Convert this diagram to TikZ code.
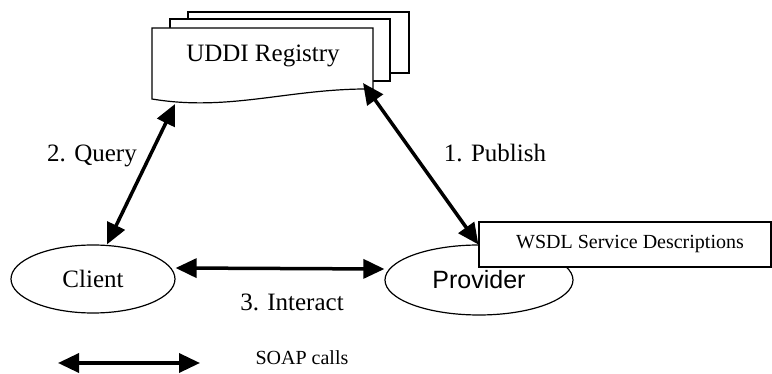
\documentclass[tikz,border=0pt]{standalone}
\usepackage{fontspec}
\setmainfont{Liberation Serif}
\newfontfamily\arialfont{Liberation Sans}
\usepackage{tikz}
\usetikzlibrary{arrows.meta,shapes.geometric,positioning}

\begin{document}
\begin{tikzpicture}[x=1pt, y=-1pt, font=\fontsize{25}{30}\selectfont,
        page/.style={draw, fill=white, line width=1.2pt},
        actor/.style={draw, ellipse, line width=1.2pt, inner sep=0pt},
        soap/.style={line width=3.5pt, {Triangle[length=21pt,width=19pt]}-{Triangle[length=21pt,width=19pt]}},
        small/.style={font=\fontsize{20}{24}\selectfont}]
    \useasboundingbox (0,0) rectangle (772,374);

    % registry pages
    \draw[page] (188,12) rectangle (409,73);
    \draw[page] (170,19) rectangle (390,81);
    \draw[page] (152,99) -- (152,28) -- (373,28) -- (373,89)
        .. controls (290,88) and (230,112) .. (152,99) -- cycle;
    \node[anchor=base] (registry) at (263,62) {UDDI Registry};
    \coordinate (regQ) at (175,104);
    \coordinate (regP) at (363,83);

    % actors
    \node[actor, minimum width=164pt, minimum height=68pt] (client) at (93,279) {Client};
    \node[actor, minimum width=188pt, minimum height=70pt,
          font=\arialfont\fontsize{25}{30}\selectfont] (provider) at (479,280) {Provider};
    \node[draw, fill=white, line width=1.2pt, minimum width=292pt, minimum height=45pt,
          small] (wsdl) at (625,244.5) {\hspace*{10pt}WSDL Service Descriptions};

    % calls
    \draw[soap] ([xshift=14pt]client.north) -- (regQ);
    \draw[soap] (regP) -- (wsdl.west);
    \draw[soap] ([yshift=11pt]client.east) -- ([yshift=11pt]provider.west);

    \node[anchor=base] (query) at (92,162) {2. Query};
    \node[anchor=base] (publish) at (495,162) {1. Publish};
    \node[anchor=base] (interact) at (292,311) {3. Interact};

    % legend
    \coordinate (soapL) at (58,363);
    \coordinate (soapR) at (200,363);
    \draw[soap] (soapL) -- (soapR);
    \node[small, anchor=base] (soaptxt) at (302,365) {SOAP calls};
\end{tikzpicture}
\end{document}
